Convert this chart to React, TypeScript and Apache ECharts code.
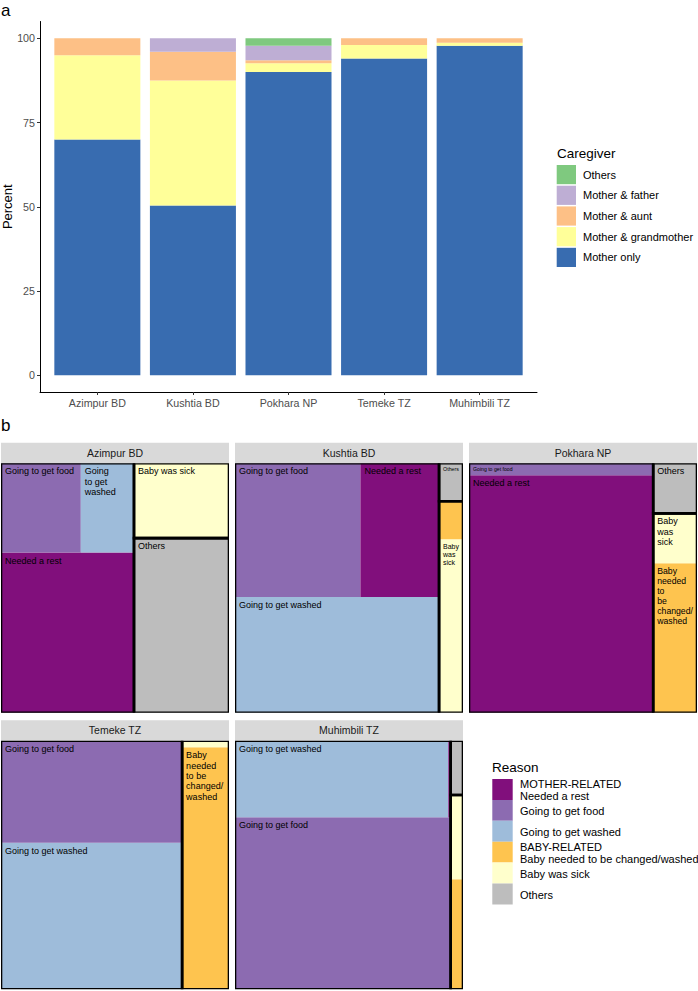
import React, { useEffect, useRef } from 'react';
import * as echarts from 'echarts';

// ---------------- data: panel a ----------------
const sites = ['Azimpur BD', 'Kushtia BD', 'Pokhara NP', 'Temeke TZ', 'Muhimbili TZ'];
const yTicks = [0, 25, 50, 75, 100];
const xTicks = [1, 2, 3, 4, 5];

const caregivers = ['Mother only', 'Mother & grandmother', 'Mother & aunt', 'Mother & father', 'Others'];
const motherOnly = [70, 50.4, 90, 94, 97.8];
const motherGrandmother = [25, 37.1, 2.6, 4, 0.9];
const motherAunt = [5, 8.5, 0.9, 2, 1.3];
const motherFather = [0, 4, 4.3, 0, 0];
const caregiverOthers = [0, 0, 2.2, 0, 0];
const caregiverColors = ['#386CB0', '#FFFF99', '#FDC086', '#BEAED4', '#7FC97F'];
const caregiverLegendOrder = ['Others', 'Mother & father', 'Mother & aunt', 'Mother & grandmother', 'Mother only'];

// ---------------- data: panel b ----------------
const reasons = ['Needed a rest', 'Going to get food', 'Going to get washed', 'Baby needed to be changed/washed', 'Baby was sick', 'Others'];
const reasonGroups = ['MOTHER-RELATED', 'MOTHER-RELATED', 'MOTHER-RELATED', 'BABY-RELATED', 'BABY-RELATED', 'OTHERS'];
const groupNames = ['MOTHER-RELATED', 'BABY-RELATED', 'OTHERS'];
const neededRest = [37.5, 18.5, 76.9, 0, 0.32];
const goingFood = [12.5, 29.5, 3.85, 32.6, 65.5];
const goingWashed = [8.33, 41.5, 0, 46.8, 28.8];
const babyChanged = [0, 1.6, 11.5, 20.0, 2.39];
const babySick = [12.5, 7.3, 3.85, 0.55, 1.83];
const reasonOthers = [29.17, 1.6, 3.85, 0, 1.18];
const reasonColors = ['#810F7C', '#8C6BB1', '#9EBCDA', '#FEC44F', '#FFFFCC', '#BDBDBD'];

const caregiverValues = [motherOnly, motherGrandmother, motherAunt, motherFather, caregiverOthers];
const reasonValues = [neededRest, goingFood, goingWashed, babyChanged, babySick, reasonOthers];

const FONT = '"Liberation Sans", Arial, Helvetica, sans-serif';
const TICK_TEXT = '#4D4D4D';

// ---------------- treemap layout (squarified, bottom-left origin) ----------------
type Rect = { x0: number; y0: number; x1: number; y1: number };

function worst(areas: number[], side: number) {
  const s = areas.reduce((a, b) => a + b, 0);
  let m = 0;
  for (const a of areas) {
    const r = Math.max((side * side * a) / (s * s), (s * s) / (side * side * a));
    if (r > m) m = r;
  }
  return m;
}

function squarify<T extends { value: number }>(items: T[], rect: Rect) {
  const list = items.filter((d) => d.value > 0).sort((a, b) => b.value - a.value);
  const total = list.reduce((s, d) => s + d.value, 0);
  const area = (rect.x1 - rect.x0) * (rect.y1 - rect.y0);
  const scaled = list.map((d) => ({ item: d, a: (d.value / total) * area }));
  const out: { item: T; rect: Rect }[] = [];
  const r = { ...rect };
  let i = 0;
  while (i < scaled.length) {
    const w = r.x1 - r.x0;
    const h = r.y1 - r.y0;
    const side = Math.min(w, h);
    let row = [scaled[i]];
    let j = i + 1;
    while (j < scaled.length) {
      const cand = [...row, scaled[j]];
      if (worst(cand.map((c) => c.a), side) <= worst(row.map((c) => c.a), side)) {
        row = cand;
        j++;
      } else break;
    }
    const rs = row.reduce((s, c) => s + c.a, 0);
    if (w >= h) {
      const t = rs / h;
      let y = r.y0;
      for (const c of row) {
        const hh = c.a / t;
        out.push({ item: c.item, rect: { x0: r.x0, y0: y, x1: r.x0 + t, y1: y + hh } });
        y += hh;
      }
      r.x0 += t;
    } else {
      const t = rs / w;
      let x = r.x0;
      for (const c of row) {
        const ww = c.a / t;
        out.push({ item: c.item, rect: { x0: x, y0: r.y0, x1: x + ww, y1: r.y0 + t } });
        x += ww;
      }
      r.y0 += t;
    }
    i = j;
  }
  return out;
}

function panelLayout(p: number) {
  const groups = groupNames
    .map((g) => {
      const members = reasons
        .map((_, ri) => ri)
        .filter((ri) => reasonGroups[ri] === g && reasonValues[ri][p] > 0)
        .map((ri) => ({ ri, value: reasonValues[ri][p] }));
      return { g, members, value: members.reduce((s, m) => s + m.value, 0) };
    })
    .filter((g) => g.value > 0);
  const gl = squarify(groups, { x0: 0, y0: 0, x1: 1, y1: 1 });
  const tiles: number[][] = [];
  const borders: number[][] = [];
  gl.forEach(({ item, rect }) => {
    squarify(item.members, rect).forEach(({ item: m, rect: rr }) => tiles.push([rr.x0, rr.y0, rr.x1, rr.y1, m.ri, 0]));
    borders.push([rect.x0, rect.y0, rect.x1, rect.y1, -1, 1]);
  });
  return [...tiles, ...borders];
}

// ---------------- text fitting (reflow + shrink) ----------------
const PADX = 4;
const PADY = 3;
const BASE = 9;
const LH = 1.14;
const MIN_SIZE = 4;
let measureCtx: CanvasRenderingContext2D | null = null;
function textW(s: string, size: number) {
  if (!measureCtx) measureCtx = document.createElement('canvas').getContext('2d');
  if (!measureCtx) return s.length * size * 0.55;
  measureCtx.font = `100px ${FONT}`;
  return (measureCtx.measureText(s).width * size) / 100;
}
function tokenize(label: string) {
  const out: { t: string; sep: string }[] = [];
  label.split(' ').forEach((word, wi) => {
    const parts = word.split(/(?<=\/)(?=.)/);
    parts.forEach((pt, pi) => out.push({ t: pt, sep: pi === 0 && wi > 0 ? ' ' : '' }));
  });
  return out;
}
function wrap(tokens: { t: string; sep: string }[], w: number) {
  const n = tokens.length;
  const cost = new Array(n + 1).fill(Infinity);
  const next = new Array(n + 1).fill(n);
  cost[n] = 0;
  for (let i = n - 1; i >= 0; i--) {
    let len = 0;
    for (let j = i; j < n; j++) {
      len += (j > i ? tokens[j].sep.length : 0) + tokens[j].t.length;
      if (len > w && j > i) break;
      const lc = j === n - 1 ? 0 : len <= w ? (w - len) ** 2 : 0;
      if (lc + cost[j + 1] < cost[i]) {
        cost[i] = lc + cost[j + 1];
        next[i] = j + 1;
      }
    }
  }
  const lines: string[] = [];
  let i = 0;
  while (i < n) {
    const j = next[i];
    let s = '';
    for (let k = i; k < j; k++) s += (k > i ? tokens[k].sep : '') + tokens[k].t;
    lines.push(s);
    i = j;
  }
  return lines;
}
function fitLabel(label: string, wpx: number, hpx: number) {
  const aw = wpx - 2 * PADX;
  const ah = hpx - 2 * PADY;
  if (aw <= 0 || ah <= 0) return null;
  const tokens = tokenize(label);
  const n = label.length;
  for (let w = n; w >= 1; w--) {
    const lines = wrap(tokens, w);
    const mw = Math.max(...lines.map((l) => textW(l, BASE)));
    const th = lines.length * BASE * LH;
    if (mw <= aw && th <= ah) return { lines, size: BASE };
  }
  let best: { lines: string[]; scale: number } | null = null;
  for (let w = n; w >= 1; w--) {
    const lines = wrap(tokens, w);
    const mw = Math.max(...lines.map((l) => textW(l, BASE)));
    const th = lines.length * BASE * LH;
    const scale = Math.min(aw / mw, ah / th);
    if (!best || scale >= best.scale - 1e-9) best = { lines, scale };
  }
  if (!best) return null;
  const size = BASE * best.scale;
  if (size < MIN_SIZE) return null;
  return { lines: best.lines, size };
}

// ---------------- layout constants ----------------
const panelCols = [1, 235, 469];
const panelRows = [
  { top: 463.3, height: 249.5 },
  { top: 740.7, height: 248.6 },
];
const PANEL_W = 228;
const STRIP_H = 20.5;
// panel a: ggplot discrete scale expands by 0.6 of a category on each side
const A_LEFT = 40;
const A_WIDTH = 497;
const A_TOP = 21.5;
const A_HEIGHT = 370.5;
const BAND = A_WIDTH / (sites.length + 0.2);

export default function App() {
  const ref = useRef<HTMLDivElement>(null);
  useEffect(() => {
    if (!ref.current) return;
    document.body.style.margin = '0';
    const chart = echarts.init(ref.current, undefined, { renderer: 'svg' });

    const grids: any[] = [
      { left: A_LEFT, top: A_TOP, width: A_WIDTH, height: A_HEIGHT },
      { left: A_LEFT + 0.1 * BAND, top: A_TOP, width: BAND * sites.length, height: A_HEIGHT },
    ];
    const xAxes: any[] = [
      {
        type: 'value',
        gridIndex: 0,
        min: 0.4,
        max: 5.6,
        splitLine: { show: false },
        axisLine: { show: true, onZero: false, lineStyle: { color: '#000', width: 1 } },
        axisTick: { show: true, length: 3, customValues: xTicks, lineStyle: { color: '#333' } },
        axisLabel: {
          customValues: xTicks,
          color: TICK_TEXT,
          fontSize: 10.7,
          fontFamily: FONT,
          margin: 5,
          formatter: (v: number) => `{t|${sites[Math.round(v) - 1] ?? ''}}`,
          rich: { t: { color: TICK_TEXT, fontSize: 10.7, fontFamily: FONT } },
        },
      },
      { type: 'category', gridIndex: 1, data: sites, show: false },
    ];
    const yAxes: any[] = [
      {
        type: 'value',
        gridIndex: 0,
        min: -5,
        max: 105,
        splitLine: { show: false },
        axisLine: { show: true, onZero: false, lineStyle: { color: '#000', width: 1 } },
        axisTick: { show: true, length: 3, customValues: yTicks, lineStyle: { color: '#333' } },
        axisLabel: {
          customValues: yTicks,
          color: TICK_TEXT,
          fontSize: 10.7,
          fontFamily: FONT,
          margin: 5,
          formatter: (v: number) => `{t|${v}}`,
          rich: { t: { color: TICK_TEXT, fontSize: 10.7, fontFamily: FONT } },
        },
      },
      { type: 'value', gridIndex: 1, min: -5, max: 105, show: false },
    ];
    const series: any[] = caregivers.map((name, ci) => ({
      name,
      type: 'bar',
      xAxisIndex: 1,
      yAxisIndex: 1,
      stack: 'total',
      barWidth: '90%',
      itemStyle: { color: caregiverColors[ci] },
      data: caregiverValues[ci],
    }));

    const graphics: any[] = [
      { type: 'text', x: 1, y: 10, style: { text: 'a', fontSize: 17, fontFamily: FONT, fill: '#000', verticalAlign: 'middle' } },
      { type: 'text', x: 1, y: 425, style: { text: 'b', fontSize: 17, fontFamily: FONT, fill: '#000', verticalAlign: 'middle' } },
      {
        type: 'text',
        x: 7.5,
        y: 206.7,
        rotation: Math.PI / 2,
        style: { text: 'Percent', fontSize: 13, fontFamily: FONT, fill: '#000', align: 'center', verticalAlign: 'middle' },
      },
      { type: 'text', x: 557, y: 153, style: { text: 'Caregiver', fontSize: 13.5, fontFamily: FONT, fill: '#000', verticalAlign: 'middle' } },
      { type: 'text', x: 492, y: 767.7, style: { text: 'Reason', fontSize: 13.5, fontFamily: FONT, fill: '#000', verticalAlign: 'middle' } },
    ];

    sites.forEach((site, p) => {
      const col = p % 3;
      const row = Math.floor(p / 3);
      const left = panelCols[col];
      const { top, height } = panelRows[row];
      const gi = p + 2;
      grids.push({ left, top, width: PANEL_W, height });
      xAxes.push({ type: 'value', gridIndex: gi, min: 0, max: 1, show: false });
      yAxes.push({ type: 'value', gridIndex: gi, min: 0, max: 1, show: false });
      series.push({
        type: 'custom',
        xAxisIndex: gi,
        yAxisIndex: gi,
        clip: true,
        encode: { x: [0, 2], y: [1, 3] },
        data: panelLayout(p),
        renderItem: (params: any, api: any) => {
          const x0 = api.value(0);
          const y0 = api.value(1);
          const x1 = api.value(2);
          const y1 = api.value(3);
          const ri = api.value(4);
          const kind = api.value(5);
          const a = api.coord([x0, y1]);
          const b = api.coord([x1, y0]);
          const w = b[0] - a[0];
          const h = b[1] - a[1];
          if (kind === 1) {
            return {
              type: 'rect',
              shape: { x: a[0], y: a[1], width: w, height: h },
              style: { fill: 'none', stroke: '#000', lineWidth: 2.6 },
            };
          }
          const children: any[] = [
            { type: 'rect', shape: { x: a[0], y: a[1], width: w, height: h }, style: { fill: reasonColors[ri] } },
          ];
          const fit = fitLabel(reasons[ri], w, h);
          if (fit) {
            children.push({
              type: 'text',
              x: a[0] + PADX,
              y: a[1] + PADY,
              style: {
                text: fit.lines.join('\n'),
                fontSize: fit.size,
                fontFamily: FONT,
                fill: '#000',
                lineHeight: fit.size * LH,
                align: 'left',
                verticalAlign: 'top',
              },
            });
          }
          return { type: 'group', children };
        },
      });
      graphics.push({
        type: 'rect',
        shape: { x: left, y: top - STRIP_H, width: PANEL_W, height: STRIP_H },
        style: { fill: '#D9D9D9' },
      });
      graphics.push({
        type: 'text',
        x: left + PANEL_W / 2,
        y: top - STRIP_H / 2,
        style: { text: site, fontSize: 10.5, fontFamily: FONT, fill: '#1A1A1A', align: 'center', verticalAlign: 'middle' },
      });
    });

    // Reason legend
    const keyTop = 779;
    const keyH = 20.9;
    reasons.forEach((r, ri) => {
      const g = reasonGroups[ri];
      const firstOfGroup = reasonGroups.indexOf(g) === ri && g !== 'OTHERS';
      const label = firstOfGroup ? `${g}\n${r}` : r;
      const y = keyTop + ri * keyH;
      graphics.push({
        type: 'rect',
        shape: { x: 492.3, y, width: 20.4, height: keyH },
        style: { fill: reasonColors[ri] },
      });
      graphics.push({
        type: 'text',
        x: 520,
        y: y + keyH / 2 + 0.8,
        style: { text: label, fontSize: 11, fontFamily: FONT, fill: '#000', lineHeight: 11.6, verticalAlign: 'middle' },
      });
    });

    chart.setOption({
      animation: false,
      backgroundColor: '#fff',
      textStyle: { fontFamily: FONT },
      grid: grids,
      xAxis: xAxes,
      yAxis: yAxes,
      legend: {
        data: caregiverLegendOrder,
        orient: 'vertical',
        left: 556.7,
        top: 165,
        padding: 0,
        itemWidth: 19.3,
        itemHeight: 19.2,
        itemGap: 1.5,
        icon: 'rect',
        selectedMode: false,
        textStyle: { fontSize: 11, color: '#000', fontFamily: FONT, padding: [0, 0, 0, 2] },
      },
      graphic: graphics,
      series,
    });
    return () => chart.dispose();
  }, []);
  return <div ref={ref} style={{ position: 'absolute', left: 0, top: 0, width: 698, height: 991, background: '#fff' }} />;
}
